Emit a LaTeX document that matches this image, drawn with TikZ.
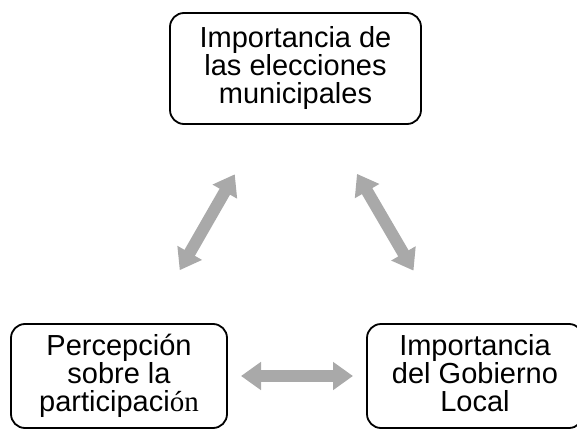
\documentclass[tikz,border=0pt]{standalone}
\usepackage{fontspec}
\setmainfont{Liberation Sans}
\newfontfamily\timesfont{Liberation Serif}
\usetikzlibrary{arrows.meta}
\definecolor{arrowgray}{RGB}{169,169,169}
\tikzset{
	caja/.style={draw, line width=1.8pt, rounded corners=14pt, align=center, inner sep=0pt,
		font=\fontsize{29}{28}\selectfont},
	flecha/.style={arrowgray, line width=12pt,
		{Triangle[width=27pt,length=20pt]}-{Triangle[width=27pt,length=20pt]},
		shorten <=122pt, shorten >=122pt}
}
\begin{document}
\begin{tikzpicture}[x=1pt,y=-1pt]
	\useasboundingbox (0,0) rectangle (577,430);
	% cajas
	\node[caja, minimum width=251pt, minimum height=111pt] (elecciones) at (295.5,68.5)
		{Importancia de\\las elecciones\\municipales};
	\node[caja, minimum width=216pt, minimum height=104pt] (percepcion) at (119,376)
		{Percepción\\sobre la\\participaci{\timesfont ón}};
	\node[caja, minimum width=216pt, minimum height=104pt] (gobierno) at (475,376)
		{Importancia\\del Gobierno\\Local\vphantom{p}};
	% flechas
	\draw[flecha] (elecciones.center) -- (percepcion.center);
	\draw[flecha] (elecciones.center) -- (gobierno.center);
	\draw[flecha] (percepcion.center) -- (gobierno.center);
\end{tikzpicture}
\end{document}
